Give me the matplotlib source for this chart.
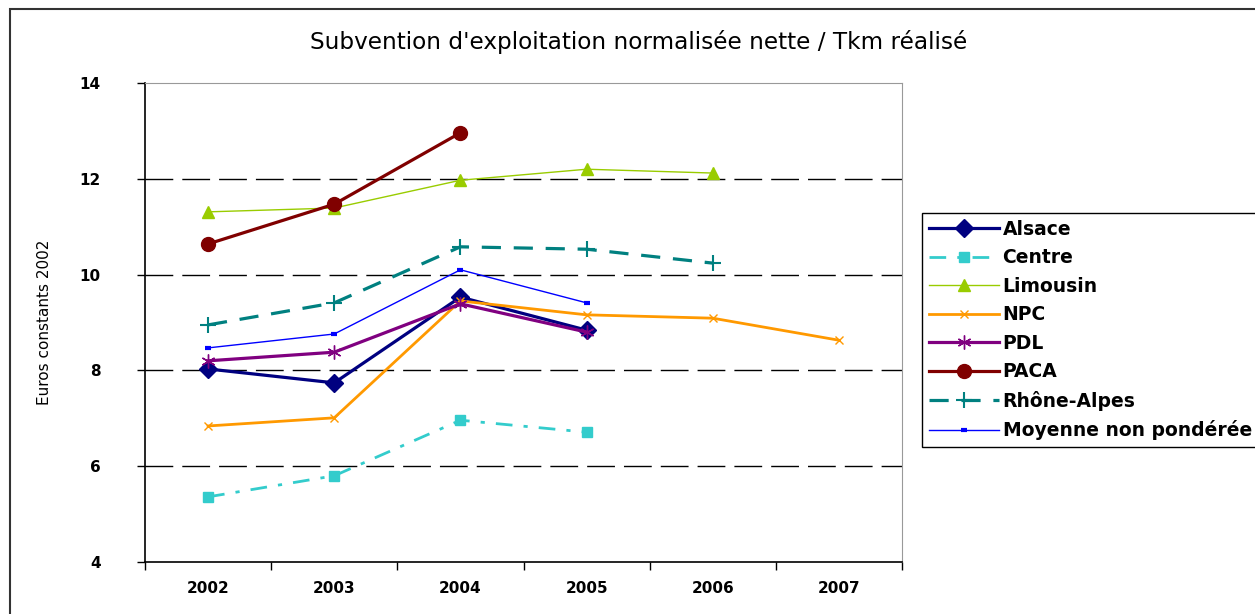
import matplotlib
matplotlib.use("Agg")
import matplotlib.pyplot as plt
from matplotlib.patches import Rectangle
import numpy as np

plt.rcParams['font.family'] = ['DejaVu Sans']

years = ["2002", "2003", "2004", "2005", "2006", "2007"]
alsace = [8.03, 7.74, 9.53, 8.84]
centre = [5.36, 5.80, 6.96, 6.71]
limousin = [11.31, 11.39, 11.97, 12.20, 12.12]
npc = [6.84, 7.01, 9.45, 9.16, 9.09, 8.63]
pdl = [8.20, 8.38, 9.39, 8.80]
paca = [10.64, 11.47, 12.96]
rhone = [8.95, 9.41, 10.58, 10.53, 10.24]
moyenne = [8.47, 8.76, 10.10, 9.41]

title = "Subvention d'exploitation normalisée nette / Tkm réalisé"
ylabel = "Euros constants 2002"

W, H = 1255, 614
fig = plt.figure(figsize=(W / 100, H / 100), dpi=100)
fig.patches.append(Rectangle((10 / W, 0 - 0.1), 2, 1 - 9 / H + 0.1, transform=fig.transFigure,
                             fill=False, edgecolor='#333333', lw=1.5))

ax = fig.add_axes([145 / W, 1 - 562 / H, (902 - 145) / W, (562 - 83) / H])

series = [
    ("Alsace", alsace, dict(color='#000080', lw=2.3, marker='D', ms=9, ls='-')),
    ("Centre", centre, dict(color='#33CCCC', lw=2.0, marker='s', ms=7, ls=(0, (6, 4, 1.5, 4)))),
    ("Limousin", limousin, dict(color='#99CC00', lw=1.0, marker='^', ms=9, ls='-')),
    ("NPC", npc, dict(color='#FF9900', lw=2.0, marker='x', ms=6, mew=1.0, ls='-')),
    ("PDL", pdl, dict(color='#800080', lw=2.3, marker=(6, 2, 0), ms=10, mew=1.0, ls='-')),
    ("PACA", paca, dict(color='#800000', lw=2.3, marker='o', ms=10, ls='-')),
    ("Rhône-Alpes", rhone, dict(color='#008080', lw=2.3, marker='+', ms=11, mew=1.5, ls=(0, (6, 4)))),
    ("Moyenne non pondérée", moyenne, dict(color='#0000FF', lw=1.0, marker='_', ms=5, mew=3, ls='-')),
]

handles = []
for name, vals, st in series:
    x = np.arange(len(vals))
    h, = ax.plot(x, vals, label=name, **st)
    handles.append(h)

ax.set_xlim(-0.5, 5.5)
ax.set_ylim(4, 14)
ax.set_yticks([4, 6, 8, 10, 12, 14])
ax.set_yticklabels(["4", "6", "8", "10", "12", "14"], fontsize=11, fontweight='bold')
ax.set_xticks(np.arange(6))
ax.set_xticklabels(years, fontsize=11, fontweight='bold')
ax.tick_params(axis='x', which='major', length=0, pad=14)
ax.set_xticks(np.arange(-0.5, 6, 1), minor=True)
ax.tick_params(axis='x', which='minor', length=6, width=1, direction='out')
ax.tick_params(axis='y', length=6, width=1, direction='out', pad=26)
for yv in [6, 8, 10, 12]:
    ax.axhline(yv, color='black', lw=1.0, ls=(0, (20, 6.5)), zorder=0.5)

ax.spines['left'].set_color('black')
ax.spines['bottom'].set_color('black')
ax.spines['left'].set_linewidth(1.2)
ax.spines['bottom'].set_linewidth(1.2)
ax.spines['top'].set_color('#999999')
ax.spines['right'].set_color('#999999')

ax.set_ylabel(ylabel, fontsize=11, labelpad=20)
fig.text(639 / W, 1 - 42 / H, title, ha='center', va='center', fontsize=16.7)

leg = fig.legend(handles=handles, loc='upper left', bbox_to_anchor=(922 / W, 1 - 213 / H),
                 frameon=True, fancybox=False, edgecolor='black', framealpha=1,
                 prop={'size': 13.5, 'weight': 'bold'}, handlelength=3.75,
                 labelspacing=0.51, borderpad=0.35, handletextpad=0.2, borderaxespad=0)
leg.get_frame().set_linewidth(1.0)

fig.savefig("out.png", dpi=100)
